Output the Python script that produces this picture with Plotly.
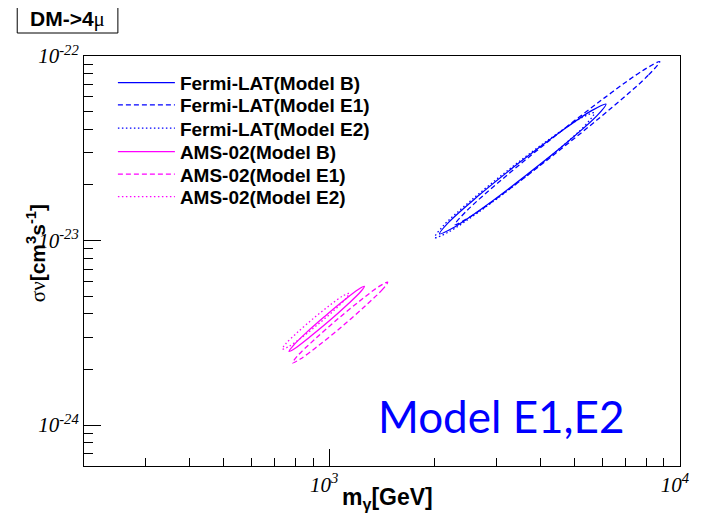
import plotly.graph_objects as go

# ---- data: contour points (mass in GeV, <sigma v> in cm^3 s^-1)
fermi_B_m = [6150, 5800, 4797, 3665, 2778, 2251, 2063, 2189, 2645, 3463, 4566, 5633]
fermi_B_sv = [5.48e-23, 4.75e-23, 3.44e-23, 2.28e-23, 1.53e-23, 1.17e-23,
              1.087e-23, 1.254e-23, 1.73e-23, 2.62e-23, 3.89e-23, 5.09e-23]

fermi_E1_m = [8753, 8117, 6412, 4598, 3273, 2533, 2282, 2462, 3116, 4344, 6104, 7888]
fermi_E1_sv = [9.32e-23, 7.86e-23, 5.28e-23, 3.15e-23, 1.91e-23, 1.35e-23,
               1.22e-23, 1.445e-23, 2.15e-23, 3.61e-23, 5.95e-23, 8.41e-23]

fermi_E2_m = [5699, 5398, 4510, 3486, 2672, 2181, 2000, 2112, 2527, 3269, 4266, 5227]
fermi_E2_sv = [4.92e-23, 4.26e-23, 3.12e-23, 2.09e-23, 1.43e-23, 1.108e-23,
               1.038e-23, 1.199e-23, 1.639e-23, 2.444e-23, 3.569e-23, 4.611e-23]

ams_B_m = [1260, 1227, 1126, 997, 880, 800, 768, 789, 859, 971, 1100, 1210]
ams_B_sv = [5.64e-24, 5.26e-24, 4.49e-24, 3.65e-24, 3.00e-24, 2.61e-24,
            2.51e-24, 2.69e-24, 3.16e-24, 3.88e-24, 4.73e-24, 5.43e-24]

ams_E1_m = [1468, 1421, 1275, 1093, 933, 827, 786, 812, 905, 1055, 1237, 1395]
ams_E1_sv = [5.95e-24, 5.45e-24, 4.47e-24, 3.45e-24, 2.70e-24, 2.28e-24,
             2.17e-24, 2.37e-24, 2.89e-24, 3.74e-24, 4.79e-24, 5.68e-24]

ams_E2_m = [1140, 1116, 1036, 930, 832, 763, 735, 751, 809, 901, 1007, 1098]
ams_E2_sv = [5.17e-24, 4.85e-24, 4.21e-24, 3.52e-24, 2.97e-24, 2.65e-24,
             2.58e-24, 2.75e-24, 3.16e-24, 3.78e-24, 4.48e-24, 5.03e-24]

series_names = ["Fermi-LAT(Model B)", "Fermi-LAT(Model E1)", "Fermi-LAT(Model E2)",
                "AMS-02(Model B)", "AMS-02(Model E1)", "AMS-02(Model E2)"]

x_tick_vals = [1000, 10000]
x_tick_text = ["<i>10<sup>3</sup></i>", "<i>10<sup>4</sup></i>"]
y_tick_vals = [1e-24, 1e-23, 1e-22]
y_tick_text = ["<i>10<sup>-24</sup></i>", "<i>10<sup>-23</sup></i>", "<i>10<sup>-22</sup></i>"]
x_minor_vals = [300, 400, 500, 600, 700, 800, 900,
                2000, 3000, 4000, 5000, 6000, 7000, 8000, 9000]
y_minor_vals = [7e-25, 8e-25, 9e-25,
                2e-24, 3e-24, 4e-24, 5e-24, 6e-24, 7e-24, 8e-24, 9e-24,
                2e-23, 3e-23, 4e-23, 5e-23, 6e-23, 7e-23, 8e-23, 9e-23]

BLUE = "#0000ff"
MAGENTA = "#ff00ff"
DASH = "5px,3px"
DOT = "1.5px,2.5px"

contours = [
    (fermi_B_m, fermi_B_sv, BLUE, "solid"),
    (fermi_E1_m, fermi_E1_sv, BLUE, DASH),
    (fermi_E2_m, fermi_E2_sv, BLUE, DOT),
    (ams_B_m, ams_B_sv, MAGENTA, "solid"),
    (ams_E1_m, ams_E1_sv, MAGENTA, DASH),
    (ams_E2_m, ams_E2_sv, MAGENTA, DOT),
]

legend_ids = ["legend", "legend2", "legend3", "legend4", "legend5", "legend6"]

fig = go.Figure()
for name, lid, (m, sv, col, dash) in zip(series_names, legend_ids, contours):
    fig.add_trace(go.Scatter(
        x=m + m[:1], y=sv + sv[:1], mode="lines", name=name, legend=lid,
        line=dict(color=col, width=1.3, dash=dash, shape="spline", smoothing=1.0),
    ))

axis_common = dict(
    type="log", showline=True, linecolor="black", linewidth=1, mirror=True,
    ticks="inside", ticklen=17, tickcolor="black", tickwidth=1,
    showgrid=False, zeroline=False, tickmode="array",
    tickfont=dict(family="Liberation Serif", size=21, color="black"),
)

fig.update_xaxes(
    **axis_common, range=[2.30103, 4.0],
    tickvals=x_tick_vals, ticktext=x_tick_text, ticklabelshift=-5,
    minor=dict(tickmode="array", tickvals=x_minor_vals, ticks="inside",
               ticklen=8, tickcolor="black", showgrid=False),
)
fig.update_yaxes(
    **axis_common, range=[-24.2218, -22.0],
    tickvals=y_tick_vals, ticktext=y_tick_text,
    minor=dict(tickmode="array", tickvals=y_minor_vals, ticks="inside",
               ticklen=9, tickcolor="black", showgrid=False),
)

# page body has an 8px margin: figure is placed at (8, 8) in the window
OFF = 8
WIN_W, WIN_H = 702, 515
PL, PR, PT, PB = 84, 682, 56, 466          # plot frame in window pixels
W, H = WIN_W - OFF, WIN_H - OFF


def px(xs):
    return (xs - PL) / (PR - PL)


def py(ys):
    return (PB - ys) / (PB - PT)


legend_rows = [82.7, 105.0, 128.3, 151.7, 174.3, 196.7]   # legend entry centres (window px)
legend_font = dict(family="Liberation Sans", size=19, color="black", weight="bold")
legends = {}
for lid, row in zip(legend_ids, legend_rows):
    legends[lid] = dict(x=px(113), y=py(row - 19), xanchor="left", yanchor="top",
                        bgcolor="rgba(0,0,0,0)", borderwidth=0,
                        font=legend_font, itemwidth=57)

fig.update_layout(
    width=W, height=H, autosize=False,
    margin=dict(l=PL - OFF, r=OFF + W - PR, t=PT - OFF, b=OFF + H - PB, pad=0),
    paper_bgcolor="white", plot_bgcolor="white",
    showlegend=True,
    **legends,
    shapes=[dict(type="rect", xref="paper", yref="paper",
                 x0=px(17), x1=px(118), y0=py(33), y1=py(6),
                 line=dict(color="black", width=1), fillcolor="white")],
    annotations=[
        dict(text="<b>DM-&gt;4</b><span style=\"font-family:'Liberation Serif'\">μ</span>",
             xref="paper", yref="paper", x=px(67.5), y=py(19.5),
             xanchor="center", yanchor="middle", showarrow=False,
             font=dict(family="Liberation Sans", size=21, color="black")),
        dict(text="Model E1,E2", xref="paper", yref="paper",
             x=px(502.5), y=py(416), xanchor="center", yanchor="middle",
             showarrow=False, font=dict(family="Lato", size=44, color=BLUE)),
        dict(text="<b>m<sub>γ</sub>[GeV]</b>", xref="paper", yref="paper",
             x=px(389), y=py(498), xanchor="center", yanchor="middle",
             showarrow=False, font=dict(family="Liberation Sans", size=23, color="black")),
        dict(text="<span style=\"font-family:'Liberation Serif'\">σν</span><b>[cm<sup>3</sup>s<sup>-1</sup>]</b>",
             xref="paper", yref="paper", x=px(36), y=py(253), textangle=-90,
             xanchor="center", yanchor="middle",
             showarrow=False, font=dict(family="Liberation Sans", size=21, color="black")),
    ],
)

fig.write_html("out.html")
